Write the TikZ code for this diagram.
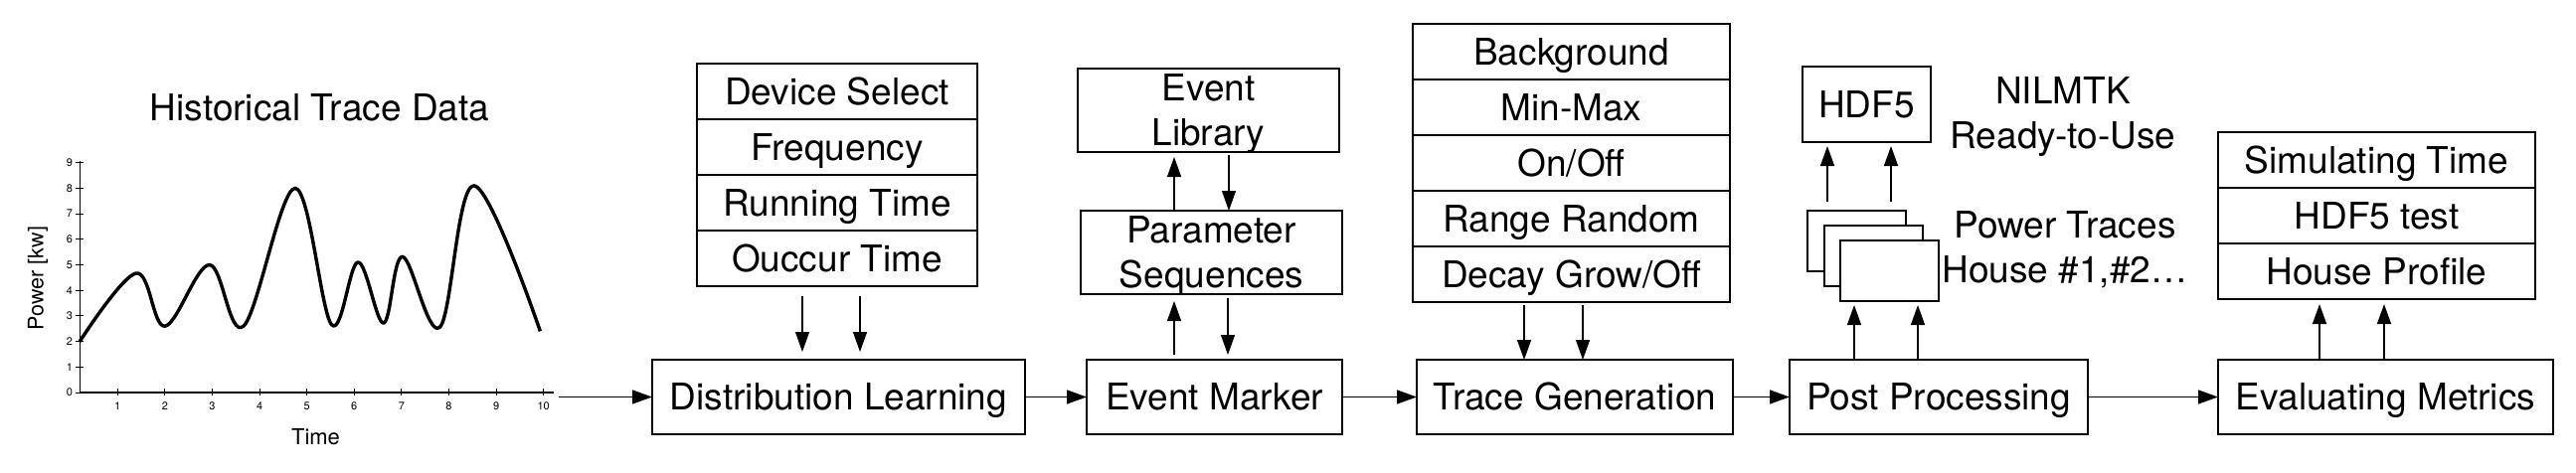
\documentclass[tikz,border=0pt]{standalone}
\usepackage{fontspec}
\setmainfont{TeX Gyre Heros}
\usetikzlibrary{arrows.meta, positioning}

\begin{document}
\begin{tikzpicture}[x=1pt, y=-1pt,
    box/.style={draw, line width=1.4pt, outer sep=0pt, inner sep=0pt, font=\fontsize{37}{45}\selectfont},
    stage/.style={box, minimum height=75pt, text height=26pt, text depth=0pt},
    cell/.style={box, minimum height=56pt, text height=26pt, text depth=0pt},
    twoline/.style={box, align=center, minimum width=263pt, minimum height=84pt, text depth=0pt},
    page/.style={box, fill=white, minimum width=99pt, minimum height=61pt},
    tick/.style={inner sep=0pt, font=\fontsize{11}{12}\selectfont},
    arr/.style={-{Triangle[length=20pt,width=14pt]}, line width=1.4pt}]

    \useasboundingbox (0,0) rectangle (2591,475);

    % historical trace
    \node[anchor=base, font=\fontsize{37}{45}\selectfont] (title) at (321.5,121) {Historical Trace Data};
    \node[rotate=90, font=\fontsize{21.5}{24}\selectfont] (ylab) at (38,280) {Power [kw]};
    \node[anchor=base, font=\fontsize{22}{26}\selectfont] (xlab) at (317.5,447) {Time};
    \begin{scope}[shift={(70.7,395)}, x=47.6pt, y=25.7pt]
        \draw[line width=1.2pt] (0.2,9.05) -- (0.2,0) -- (10.21,0);
        \foreach \v in {0,...,9} {
            \draw[line width=0.9pt] (0.27,\v) -- (0.12,\v) node[tick, left=3pt] {\v};
        }
        \foreach \t in {1,...,10} {
            \draw[line width=0.9pt] (\t,0.15) -- (\t,-0.12) node[tick, below=6pt] {\t};
        }
        \draw[line width=3.4pt, line join=round] plot[smooth, tension=0.6] coordinates {
            (0.2,2.0) (1.39,4.67) (2.0,2.6) (2.94,5.0) (3.66,2.6) (4.75,8.0) (5.52,2.66)
            (6.08,5.1) (6.62,2.72) (7.02,5.32) (7.81,2.56) (8.53,8.1) (9.93,2.4)};
    \end{scope}
    \coordinate (plotend) at (561.7,399.5);

    % pipeline
    \node[stage, minimum width=375pt] (dl) at (843.5,399.5) {Distribution Learning};
    \node[stage, minimum width=257pt] (em) at (1221.5,399.5) {Event Marker};
    \node[stage, minimum width=318pt] (tg) at (1584,399.5) {Trace Generation};
    \node[stage, minimum width=300pt] (pp) at (1950,399.5) {Post Processing};
    \node[stage, minimum width=337pt] (ev) at (2399.5,399.5) {Evaluating Metrics};

    \node[cell, minimum width=282pt] (dev) at (842,92) {Device Select};
    \node[cell, minimum width=282pt, below=0pt of dev] (frq) {Frequency};
    \node[cell, minimum width=282pt, below=0pt of frq] (run) {Running Time};
    \node[cell, minimum width=282pt, below=0pt of run] (occ) {Ouccur Time};

    \node[twoline] (lib) at (1215.5,111) {Event\\Library};
    \node[twoline] (ps) at (1218.5,254) {Parameter\\Sequences};

    \node[cell, minimum width=319pt] (bkg) at (1580.5,52) {Background};
    \node[cell, minimum width=319pt, below=0pt of bkg] (mmx) {Min-Max};
    \node[cell, minimum width=319pt, below=0pt of mmx] (onf) {On/Off};
    \node[cell, minimum width=319pt, below=0pt of onf] (rng) {Range Random};
    \node[cell, minimum width=319pt, below=0pt of rng] (dec) {Decay Grow/Off};

    \node[page] (pg1) at (1867.5,242.5) {};
    \node[page] (pg2) at (1884.5,257.5) {};
    \node[page] (pg3) at (1900.5,272.5) {};
    \node[box, minimum width=129pt, minimum height=76pt, text height=26pt, text depth=0pt] (hdf) at (1877.5,105) {HDF5};
    \node[align=center, font=\fontsize{37}{45}\selectfont] (nilm) at (2075,118) {NILMTK\\Ready-to-Use};
    \node[align=center, font=\fontsize{37}{45}\selectfont] (ptr) at (2077,251) {Power Traces\\House \#1,\#2…};

    \node[cell, minimum width=319pt] (sim) at (2390.5,161) {Simulating Time};
    \node[cell, minimum width=319pt, below=0pt of sim] (hdt) {HDF5 test};
    \node[cell, minimum width=319pt, below=0pt of hdt] (hpf) {House Profile};

    % connectors
    \draw[arr] (plotend) -- (dl);
    \draw[arr] (dl) -- (em);
    \draw[arr] (em) -- (tg);
    \draw[arr] (tg) -- (pp);
    \draw[arr] (pp) -- (ev);

    \draw[arr, shorten <=10pt, shorten >=8pt] ([xshift=-35pt]occ.south) -- ([xshift=-35pt]occ.south |- dl.north);
    \draw[arr, shorten <=10pt, shorten >=8pt] ([xshift=23pt]occ.south) -- ([xshift=23pt]occ.south |- dl.north);

    \draw[arr, shorten <=5pt, shorten >=7pt] ([xshift=-40.5pt]em.north) -- ([xshift=-40.5pt]em.north |- ps.south);
    \draw[arr, shorten <=4pt, shorten >=5pt] ([xshift=13.5pt]em.north |- ps.south) -- ([xshift=13.5pt]em.north);
    \draw[arr, shorten >=5pt] ([xshift=-40.5pt]em.north |- ps.north) -- ([xshift=-40.5pt]em.north |- lib.south);
    \draw[arr, shorten <=3pt] ([xshift=14.5pt]em.north |- lib.south) -- ([xshift=14.5pt]em.north |- ps.north);

    \draw[arr, shorten <=3pt] ([xshift=-47.5pt]dec.south) -- ([xshift=-47.5pt]dec.south |- tg.north);
    \draw[arr, shorten <=3pt] ([xshift=11.5pt]dec.south) -- ([xshift=11.5pt]dec.south |- tg.north);

    \draw[arr, shorten >=4pt] ([xshift=-85pt]pp.north) -- ([xshift=-85pt]pp.north |- pg3.south);
    \draw[arr, shorten >=4pt] ([xshift=-21pt]pp.north) -- ([xshift=-21pt]pp.north |- pg3.south);
    \draw[arr, shorten <=9pt, shorten >=4pt] ([xshift=-29.5pt]pg1.north) -- ([xshift=-29.5pt]pg1.north |- hdf.south);
    \draw[arr, shorten <=9pt, shorten >=4pt] ([xshift=34.5pt]pg1.north) -- ([xshift=34.5pt]pg1.north |- hdf.south);

    \draw[arr, shorten >=5pt] ([xshift=-66.5pt]ev.north) -- ([xshift=-66.5pt]ev.north |- hpf.south);
    \draw[arr, shorten >=5pt] ([xshift=-1.5pt]ev.north) -- ([xshift=-1.5pt]ev.north |- hpf.south);
\end{tikzpicture}
\end{document}
